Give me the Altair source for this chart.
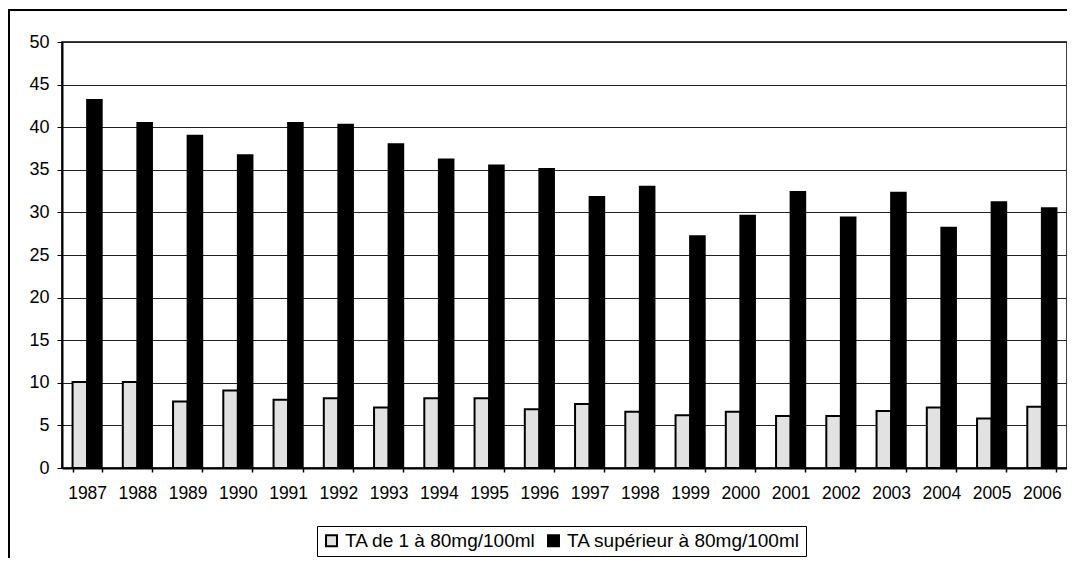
import altair as alt
import pandas as pd

years = ["1987", "1988", "1989", "1990", "1991", "1992", "1993", "1994", "1995", "1996",
         "1997", "1998", "1999", "2000", "2001", "2002", "2003", "2004", "2005", "2006"]
ta_1_80 = [10.1, 10.1, 7.8, 9.1, 8.0, 8.2, 7.1, 8.2, 8.2, 6.9,
           7.5, 6.6, 6.2, 6.6, 6.1, 6.1, 6.7, 7.1, 5.8, 7.2]
ta_sup_80 = [43.2, 40.5, 39.0, 36.7, 40.5, 40.3, 38.0, 36.2, 35.5, 35.1,
             31.8, 33.0, 27.2, 29.6, 32.4, 29.4, 32.3, 28.2, 31.2, 30.5]
series = ["TA de 1 à 80mg/100ml", "TA supérieur à 80mg/100ml"]
y_ticks = [0, 5, 10, 15, 20, 25, 30, 35, 40, 45, 50]

df = pd.DataFrame({
    "year": years * 2,
    "series": [series[0]] * len(years) + [series[1]] * len(years),
    "value": ta_1_80 + ta_sup_80,
})

FONT = "Liberation Sans"

bars = alt.Chart(df).mark_bar(stroke="black", strokeWidth=2).encode(
    x=alt.X("year:N", sort=years, title=None,
            scale=alt.Scale(paddingInner=0.42, paddingOuter=0.21),
            axis=alt.Axis(labelAngle=0, labelFontSize=17.5, labelFont=FONT, labelColor="black",
                          tickBand="extent", tickSize=4, tickColor="black", tickWidth=1.5,
                          domainColor="black", domainWidth=2, labelPadding=12, grid=False)),
    xOffset=alt.XOffset("series:N", sort=series,
                        scale=alt.Scale(paddingInner=0, paddingOuter=0)),
    y=alt.Y("value:Q", title=None,
            scale=alt.Scale(domain=[0, 50], nice=False),
            axis=alt.Axis(values=y_ticks, labelFontSize=18, labelFont=FONT, labelColor="black",
                          tickSize=5, tickColor="black", domainColor="black", domainWidth=2,
                          labelPadding=8, grid=True, gridColor="#222222", gridWidth=1)),
    fill=alt.Fill("series:N", sort=series,
                  scale=alt.Scale(domain=series, range=["#e2e2e2", "#000000"]),
                  legend=alt.Legend(title=None, orient="none", legendX=255, legendY=484,
                                    direction="horizontal", strokeColor="black", padding=5,
                                    symbolType="square", symbolSize=120,
                                    symbolStrokeColor="black", symbolStrokeWidth=2,
                                    labelFontSize=19, labelFont=FONT, labelColor="black",
                                    labelLimit=0, labelOffset=4, columnPadding=8)),
)

frame = alt.Chart(pd.DataFrame({"k": [0]})).mark_rect(
    fill="transparent", stroke="black", strokeWidth=2
).encode(
    x=alt.value(-53), x2=alt.value(1100), y=alt.value(-32), y2=alt.value(700)
)

chart = alt.layer(bars, frame).properties(
    width=1005, height=426,
    padding={"left": 54, "top": 34, "right": 0, "bottom": 90},
    autosize=alt.AutoSizeParams(type="none"),
    background="white",
).configure_view(stroke="black", strokeWidth=1.5)

chart.save("out.html", embed_options={"renderer": "svg", "actions": False})
